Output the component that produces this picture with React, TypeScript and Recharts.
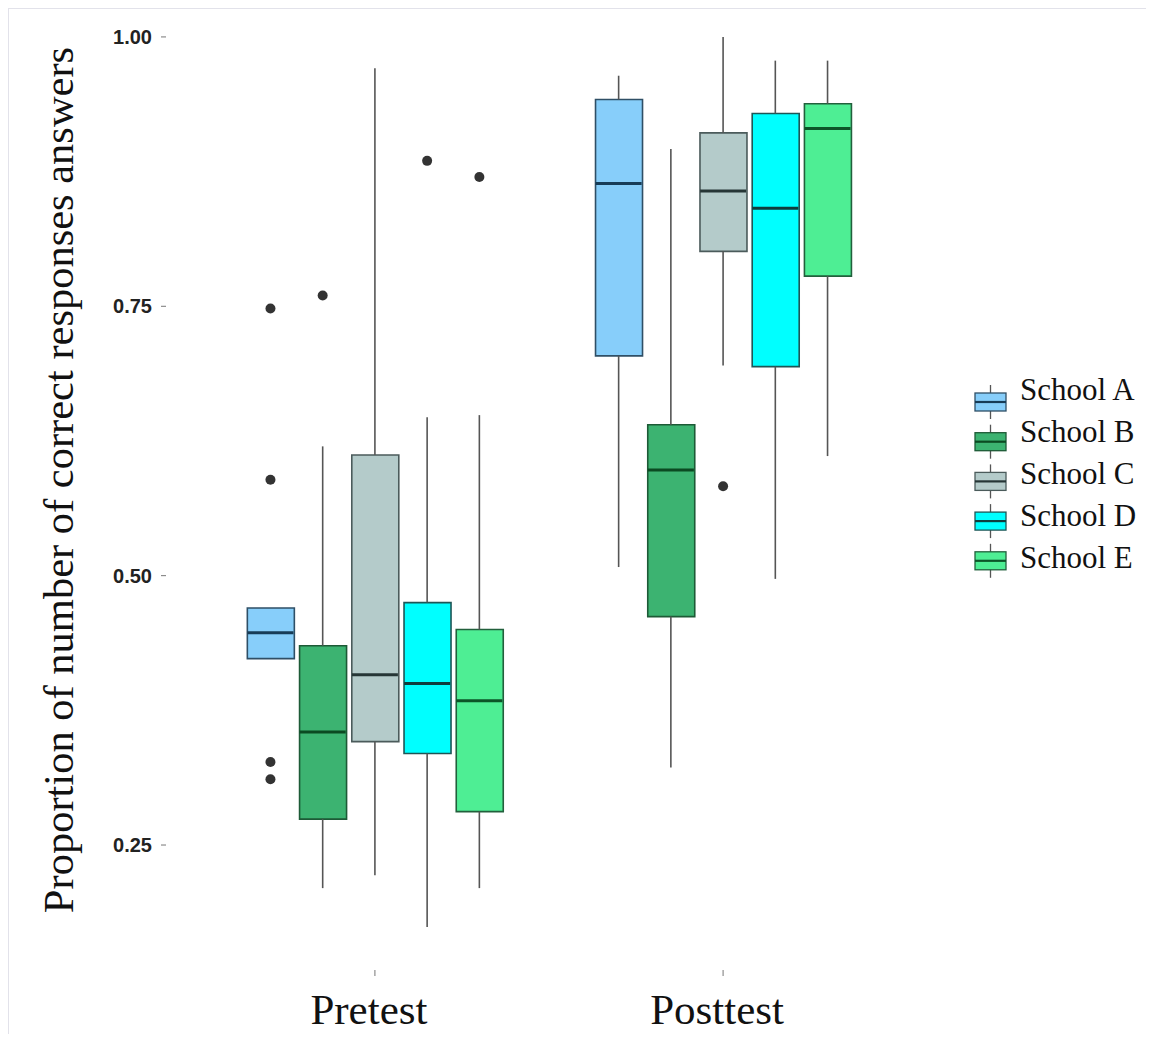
import { ComposedChart, Bar, Scatter, ErrorBar, XAxis, YAxis, Cell } from "recharts";

const GROUPS = ["Pretest", "Posttest"];
const SCHOOLS = ["School A", "School B", "School C", "School D", "School E"];
const Y_TICKS = [0.25, 0.5, 0.75, 1.0];

// box summaries, one value per school (A..E)
const PRE_LOW = [0.423, 0.21, 0.222, 0.174, 0.21];
const PRE_Q1 = [0.423, 0.274, 0.346, 0.335, 0.281];
const PRE_MED = [0.447, 0.355, 0.408, 0.4, 0.384];
const PRE_Q3 = [0.47, 0.435, 0.612, 0.475, 0.45];
const PRE_HIGH = [0.47, 0.62, 0.971, 0.647, 0.649];
const PRE_OUTLIERS = [[0.748, 0.589, 0.327, 0.311], [0.76], [], [0.885], [0.87]];

const POST_LOW = [0.508, 0.322, 0.695, 0.497, 0.611];
const POST_Q1 = [0.704, 0.462, 0.801, 0.694, 0.778];
const POST_MED = [0.864, 0.598, 0.857, 0.841, 0.915];
const POST_Q3 = [0.942, 0.64, 0.911, 0.929, 0.938];
const POST_HIGH = [0.964, 0.896, 1.0, 0.978, 0.978];
const POST_OUTLIERS = [[], [], [0.583], [], []];

const FILLS = ["#87CEFA", "#3CB371", "#B4CBCA", "#00FFFF", "#4EEE94"];
const EDGES = ["#2f4f66", "#1d5a36", "#4b5b5b", "#1e5656", "#22603c"];
const MEDIANS = ["#173c57", "#0b4a22", "#263636", "#0e3e3e", "#0c5528"];

const SERIF = "'Liberation Serif', 'Times New Roman', serif";
const DODGE = 0.15; // ggplot position_dodge(0.75) split over 5 boxes

const STATS = [
  { low: PRE_LOW, q1: PRE_Q1, med: PRE_MED, q3: PRE_Q3, high: PRE_HIGH, out: PRE_OUTLIERS },
  { low: POST_LOW, q1: POST_Q1, med: POST_MED, q3: POST_Q3, high: POST_HIGH, out: POST_OUTLIERS },
];

const boxRows = STATS.flatMap((st, g) =>
  SCHOOLS.map((_, s) => ({
    x: g + (s - 2) * DODGE,
    school: s,
    box: [st.q1[s], st.q3[s]],
    q1: st.q1[s],
    q3: st.q3[s],
    med: st.med[s],
    upErr: [0, st.high[s] - st.q3[s]],
    lowErr: [st.q1[s] - st.low[s], 0],
  }))
);

const outlierRows = STATS.flatMap((st, g) =>
  st.out.flatMap((vals, s) => vals.map((v) => ({ x: g + (s - 2) * DODGE, y: v, school: s })))
);

const NoMark = () => <g />;

const MedianMark = (p: any) => (
  <line x1={p.cx - 23} x2={p.cx + 23} y1={p.cy} y2={p.cy} stroke={MEDIANS[p.payload.school]} strokeWidth={3} />
);

const OutlierDot = (p: any) => <circle cx={p.cx} cy={p.cy} r={5} fill="#333" />;

const GroupTick = (p: any) => (
  <text x={p.x - 6} y={p.y + 46} textAnchor="middle" fontFamily={SERIF} fontSize={43} fill="#111">
    {GROUPS[p.payload.value]}
  </text>
);

export default function App() {
  return (
    <div
      style={{
        position: "relative",
        width: 1145,
        height: 1025,
        borderLeft: "1px solid #e2e2ea",
        borderTop: "1px solid #e2e2ea",
      }}
    >
      <ComposedChart width={1130} height={1024} data={boxRows} margin={{ top: 1, right: 207, bottom: 3, left: 57 }}>
        <XAxis
          type="number"
          dataKey="x"
          domain={[-0.6, 1.6]}
          ticks={[0, 1]}
          allowDataOverflow
          axisLine={false}
          tickSize={6}
          tickLine={{ stroke: "#777" }}
          height={60}
          interval={0}
          tick={(p: any) => <GroupTick {...p} />}
        />
        <YAxis
          type="number"
          domain={[0.134, 1.025]}
          ticks={Y_TICKS}
          allowDataOverflow
          axisLine={false}
          tickSize={5}
          tickMargin={9}
          width={100}
          tickLine={{ stroke: "#777" }}
          tickFormatter={(v: number) => v.toFixed(2)}
          tick={{ fontFamily: "'Liberation Sans', Arial, sans-serif", fontWeight: "bold", fontSize: 20, fill: "#222" }}
        />
        <Bar dataKey="box" barSize={47} isAnimationActive={false}>
          {boxRows.map((r, i) => (
            <Cell key={`box-${i}`} fill={FILLS[r.school]} stroke={EDGES[r.school]} strokeWidth={1.6} />
          ))}
        </Bar>
        <Scatter data={boxRows} dataKey="q3" shape={NoMark} isAnimationActive={false}>
          <ErrorBar dataKey="upErr" direction="y" width={0} stroke="#555" strokeWidth={1.6} />
        </Scatter>
        <Scatter data={boxRows} dataKey="q1" shape={NoMark} isAnimationActive={false}>
          <ErrorBar dataKey="lowErr" direction="y" width={0} stroke="#555" strokeWidth={1.6} />
        </Scatter>
        <Scatter data={boxRows} dataKey="med" shape={MedianMark} isAnimationActive={false} />
        <Scatter data={outlierRows} dataKey="y" shape={OutlierDot} isAnimationActive={false} />
      </ComposedChart>

      {/* axis title + legend drawn on top */}
      <svg width={1138} height={1025} style={{ position: "absolute", left: 0, top: 0, pointerEvents: "none" }}>
        <text
          x={64}
          y={471}
          transform="rotate(-90, 64, 471)"
          textAnchor="middle"
          fontFamily={SERIF}
          fontSize={42.5}
          fill="#111"
        >
          Proportion of number of correct responses answers
        </text>
        {SCHOOLS.map((s, i) => {
          const cy = 393 + i * 39.7;
          return (
            <g key={s}>
              <line x1={981.5} x2={981.5} y1={cy - 17} y2={cy + 17} stroke="#555" strokeWidth={1.3} />
              <rect x={966} y={cy - 9} width={31} height={18} fill={FILLS[i]} stroke={EDGES[i]} strokeWidth={1.3} />
              <line x1={966} x2={997} y1={cy} y2={cy} stroke={MEDIANS[i]} strokeWidth={2.2} />
              <text x={1011} y={391 + i * 42} fontFamily={SERIF} fontSize={31} fill="#111">
                {s}
              </text>
            </g>
          );
        })}
      </svg>
    </div>
  );
}
